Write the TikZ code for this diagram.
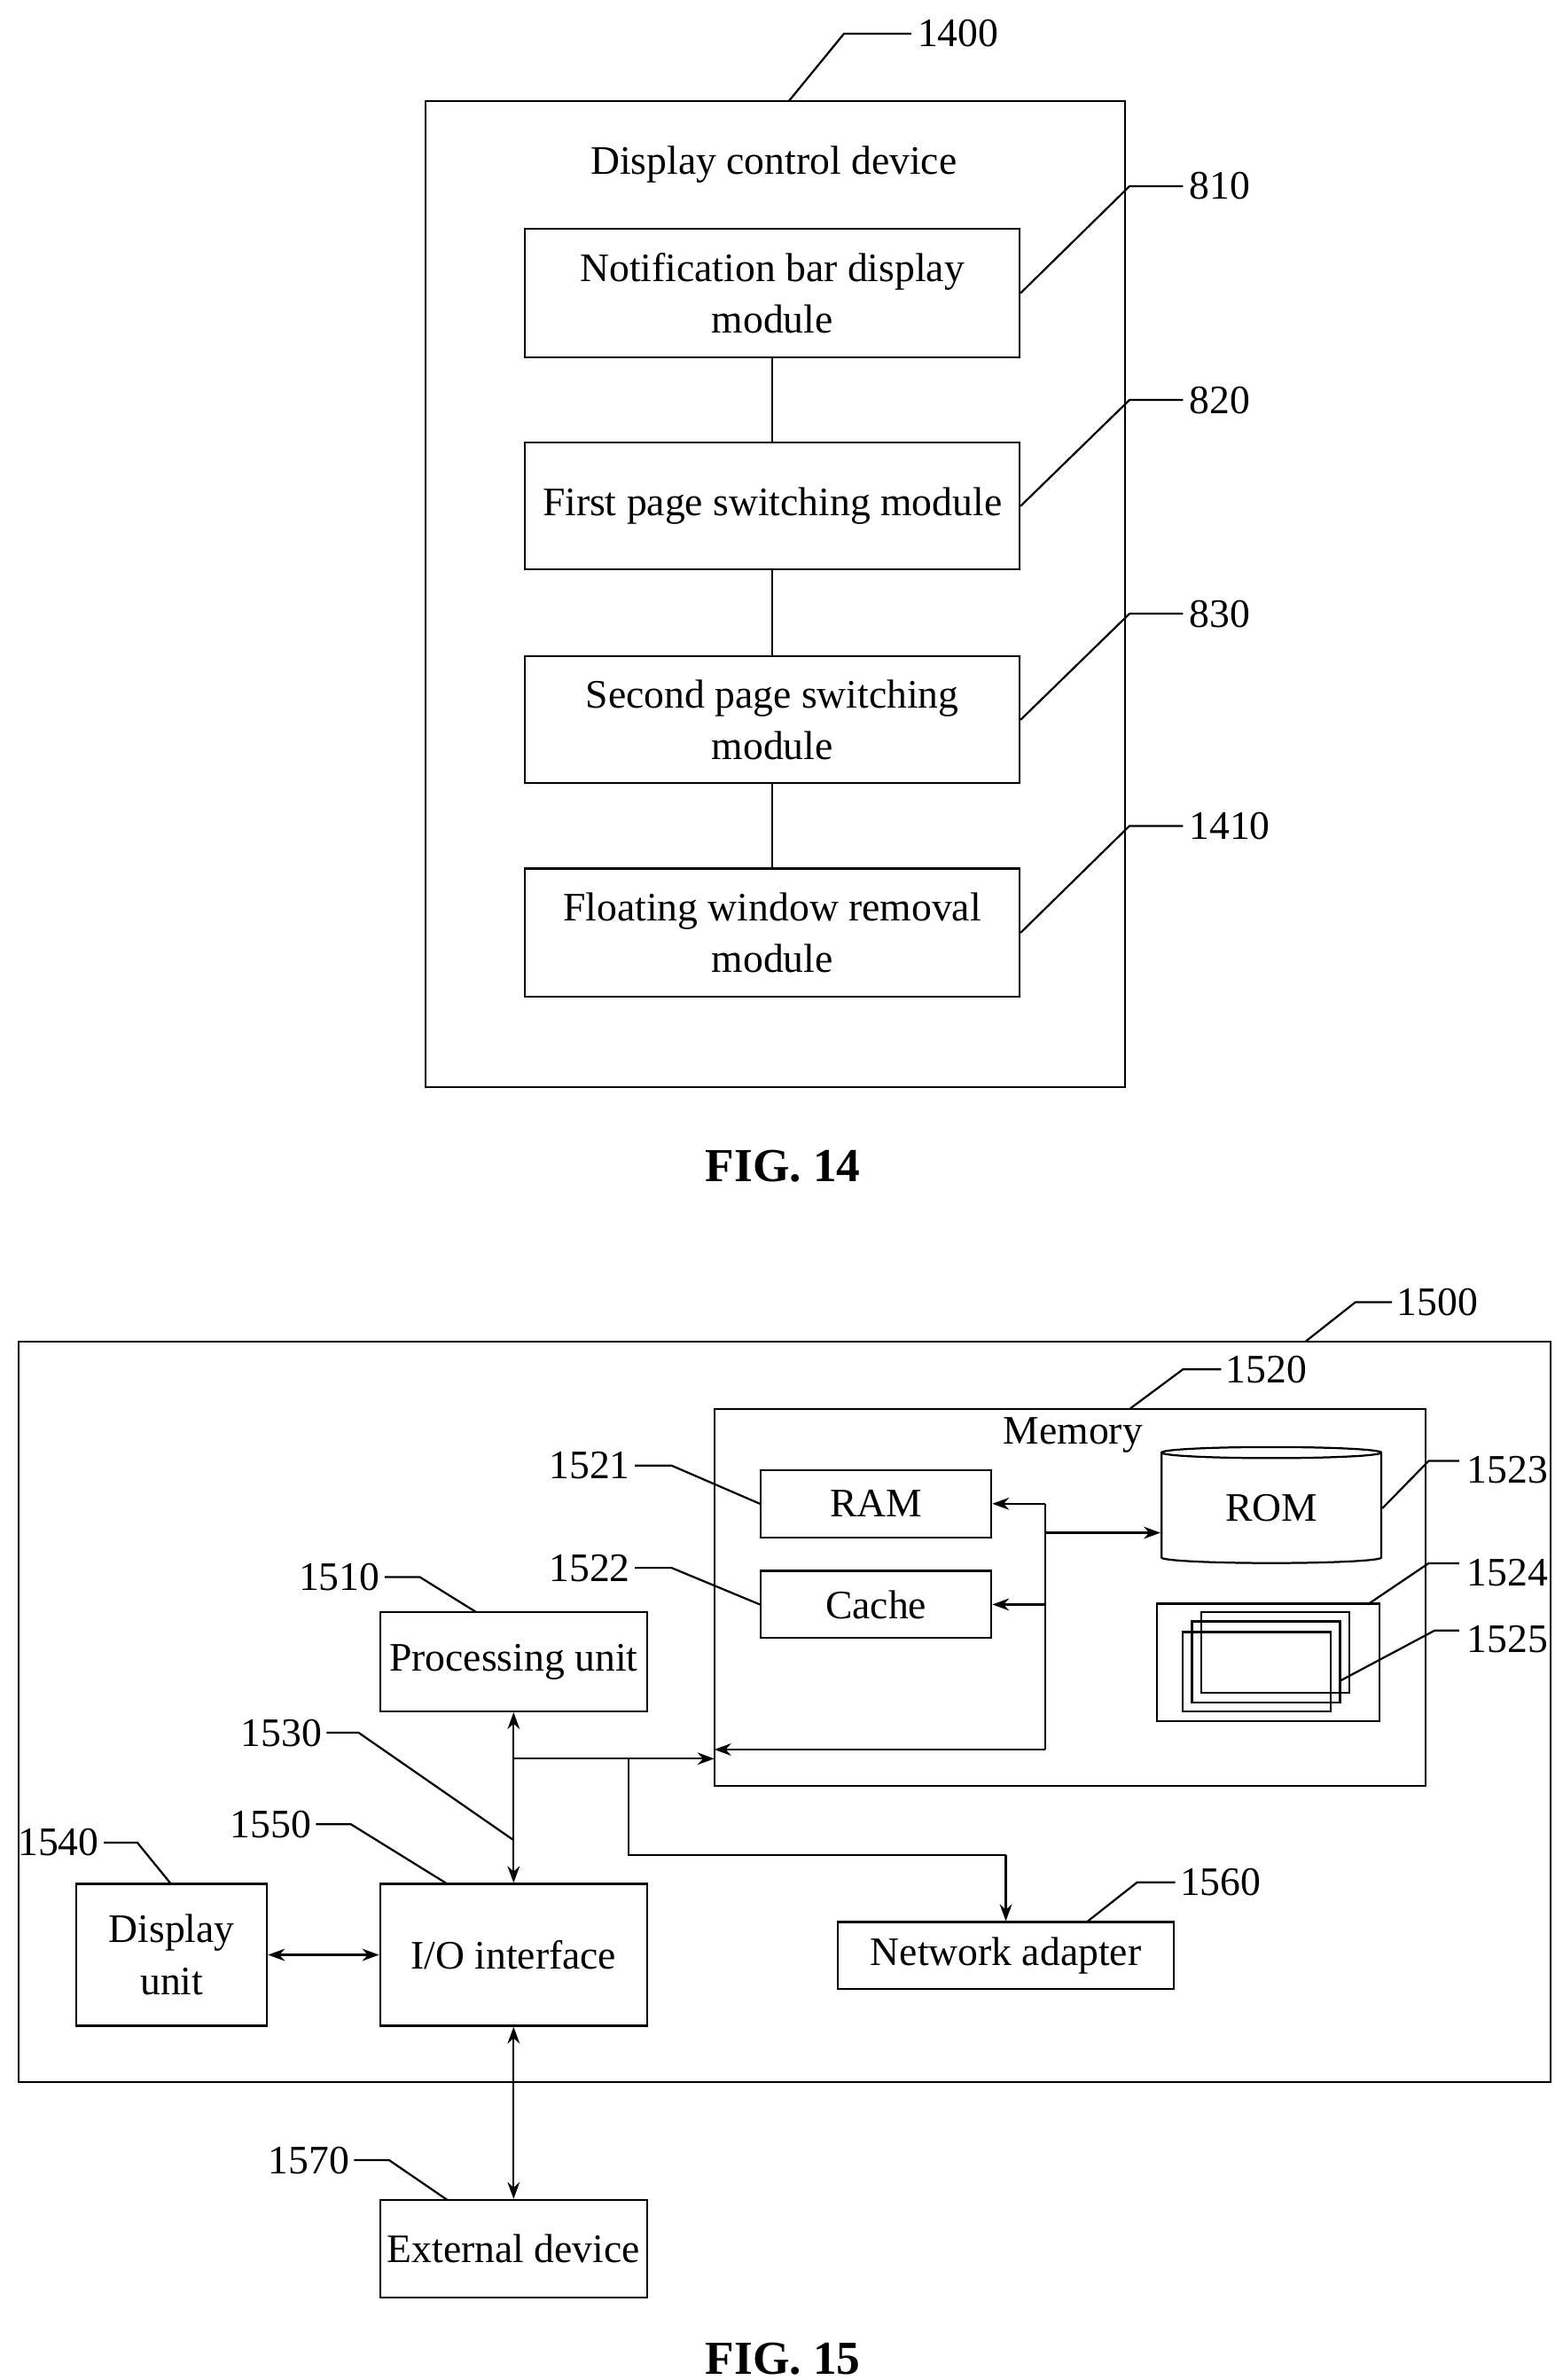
\documentclass[tikz,border=0pt]{standalone}
\usepackage{fontspec}
\setmainfont{Liberation Serif}
\usetikzlibrary{arrows.meta,shapes.geometric}
\begin{document}
\begin{tikzpicture}[x=1pt,y=-1pt,
  every node/.style={font=\fontsize{26.5}{34}\selectfont},
  bx/.style={draw,line width=1.3pt},
  ln/.style={line width=1.3pt},
  ar/.style={line width=1.3pt,-{Stealth[length=11pt,width=8pt]}},
  dar/.style={line width=1.3pt,{Stealth[length=11pt,width=8pt]}-{Stealth[length=11pt,width=8pt]}},
  lbl/.style={anchor=west,inner sep=1pt},
  fig/.style={font=\fontsize{31}{34}\selectfont\bfseries}]
\useasboundingbox (0,0) rectangle (1024,1559);
% FIG 14
\draw[bx] (279,66) rectangle (737,712);
\node at (507,108) {Display control device};
\node[bx,minimum width=324pt,minimum height=84pt,align=center,inner sep=0pt] (m1) at (506,192) {Notification bar display\\module};
\node[bx,minimum width=324pt,minimum height=83pt,align=center,inner sep=0pt] (m2) at (506,331.5) {First page switching module};
\node[bx,minimum width=324pt,minimum height=83pt,align=center,inner sep=0pt] (m3) at (506,471.5) {Second page switching\\module};
\node[bx,minimum width=324pt,minimum height=84pt,align=center,inner sep=0pt] (m4) at (506,611) {Floating window removal\\module};
\draw[ln] (m1)--(m2) (m2)--(m3) (m3)--(m4);
\foreach \n/\y/\t in {m1/122/810,m2/262/820,m3/402/830,m4/541/1410}{
  \draw[ln] (\n.east)--(740,\y)--(775,\y);
  \node[lbl] at (778,\y) {\t};}
\draw[ln] (517,66)--(553,22)--(597,22);
\node[lbl] at (600,22) {1400};
\node[fig] at (513,764) {FIG. 14};
% FIG 15
\draw[bx] (12,879) rectangle (1016,1364);
\draw[ln] (855,879)--(888,853)--(912,853); \node[lbl] at (914,853) {1500};
\draw[bx] (468,923) rectangle (934,1170);
\node at (703,940) {Memory};
\draw[ln] (740,923)--(775,897)--(800,897); \node[lbl] at (802,897) {1520};
\node[bx,minimum width=151pt,minimum height=44pt,inner sep=0pt] (ram) at (574,985) {RAM};
\node[bx,minimum width=151pt,minimum height=44pt,inner sep=0pt] (cache) at (574,1051) {Cache};
\node[draw,line width=1.3pt,cylinder,shape border rotate=90,aspect=0.12,minimum width=144pt,minimum height=76pt,inner sep=0pt] (rom) at (833,988) {ROM};
\coordinate (b1) at (685,985); \coordinate (b2) at (685,1051);
\coordinate (b3) at (685,1004); \coordinate (b4) at (685,1146);
\draw[ln] (b1)--(b4);
\draw[ar] (b1)--(ram.east);
\draw[ar] (b2)--(cache.east);
\draw[ar] (b3)--(rom.west|-b3);
\coordinate (memin) at (468,1146);
\draw[ar] (b4)--(memin);
\node[bx,minimum width=146pt,minimum height=77pt] (disk) at (831,1089) {};
\draw[ln] (787,1056) rectangle (884,1109);
\draw[ln] (781,1062) rectangle (878,1115);
\draw[ln] (775,1069) rectangle (872,1121);
\draw[ln] (rom.east)--(936,957)--(956,957); \node[lbl] at (960,963) {1523};
\draw[ln] (896,1051)--(936,1024)--(956,1024); \node[lbl] at (960,1030) {1524};
\draw[ln] (878,1101)--(940,1068)--(956,1068); \node[lbl] at (960,1074) {1525};
\draw[ln] (ram.west)--(440,960)--(416,960); \node[anchor=east,inner sep=1pt] at (414,960) {1521};
\draw[ln] (cache.west)--(440,1027)--(416,1027); \node[anchor=east,inner sep=1pt] at (414,1027) {1522};
\node[bx,minimum width=175pt,minimum height=65pt,inner sep=0pt] (pu) at (336.5,1088.5) {Processing unit};
\node[bx,minimum width=175pt,minimum height=93pt,inner sep=0pt] (io) at (336.5,1280.5) {I/O interface};
\node[bx,minimum width=125pt,minimum height=93pt,align=center,inner sep=0pt] (du) at (112.5,1280.5) {Display\\unit};
\node[bx,minimum width=220pt,minimum height=44pt,inner sep=0pt] (na) at (659,1281) {Network adapter};
\node[bx,minimum width=175pt,minimum height=64pt,inner sep=0pt] (ext) at (336.5,1473) {External device};
\draw[dar] (pu.south)--(io.north);
\coordinate (j1) at (337,1152);
\draw[ar] (j1)--(468,1152);
\coordinate (j2) at (412,1152);
\coordinate (j3) at (412,1215);
\draw[ln] (j2)--(j3)--(659,1215);
\draw[ar] (659,1215)--(na.north);
\draw[dar] (du.east)--(io.west);
\draw[dar] (io.south)--(ext.north);
\draw[ln] (312,1056)--(275,1033)--(252,1033); \node[anchor=east,inner sep=1pt] at (250,1033) {1510};
\draw[ln] (336,1205)--(235,1135)--(214,1135); \node[anchor=east,inner sep=1pt] at (212,1135) {1530};
\draw[ln] (112,1234)--(90,1207)--(68,1207); \node[anchor=east,inner sep=1pt] at (66,1207) {1540};
\draw[ln] (293,1234)--(230,1195)--(207,1195); \node[anchor=east,inner sep=1pt] at (205,1195) {1550};
\draw[ln] (712,1259)--(745,1233)--(770,1233); \node[lbl] at (772,1233) {1560};
\draw[ln] (293,1441)--(255,1415)--(232,1415); \node[anchor=east,inner sep=1pt] at (230,1415) {1570};
\node[fig] at (513,1545) {FIG. 15};
\end{tikzpicture}
\end{document}
